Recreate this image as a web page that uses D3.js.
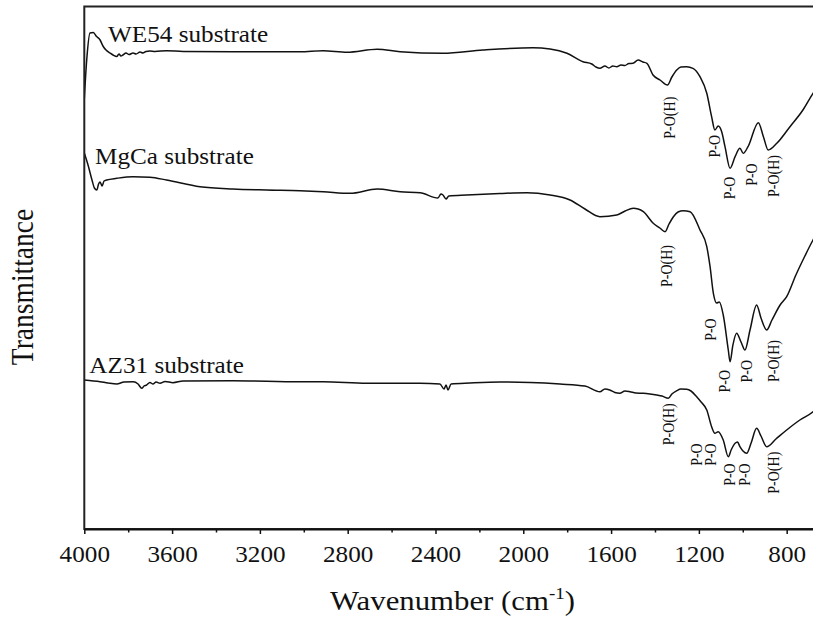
<!DOCTYPE html>
<html>
<head>
<meta charset="utf-8">
<script src="https://cdn.jsdelivr.net/npm/d3@7/dist/d3.min.js"></script>
<style>
  html, body { margin: 0; padding: 0; background: #fff; }
  svg { display: block; }
  text { font-family: "Liberation Serif", "Times New Roman", serif; fill: #111; }
</style>
</head>
<body>
<svg id="chart" width="813" height="619"></svg>
<script>
// FTIR spectra of phosphate coatings on three Mg alloy substrates.
// Each series: [wavenumber (cm^-1), transmittance (arbitrary units, offset per trace)]
const we54 = [
  [4000, 430], [3989, 469], [3974, 496], [3959, 496.5], [3944, 492.5], [3928, 489],
  [3915, 483], [3901, 479], [3883, 476], [3869, 474], [3852, 472.5], [3842, 475],
  [3833, 473], [3824, 474], [3810, 476], [3796, 474.5], [3778, 476], [3764, 475],
  [3746, 477], [3733, 476], [3719, 477.5], [3701, 478], [3678, 477.5], [3625, 478.3],
  [3550, 477.5], [3323, 477.3], [3017, 477.3], [2912, 478.3], [2803, 476.7], [2666, 479.7],
  [2561, 477.3], [2366, 475.7], [2184, 479], [1956, 481.3], [1878, 480], [1801, 475.7],
  [1728, 467.3], [1688, 465], [1669, 462], [1651, 460.7], [1628, 463], [1610, 461],
  [1592, 463], [1574, 462.3], [1555, 464], [1537, 463.5], [1519, 465.5], [1500, 465.7],
  [1477, 469], [1455, 467], [1437, 465.7], [1409, 454], [1377, 449], [1343, 444],
  [1323, 452], [1301, 459], [1282, 462], [1256, 462.3], [1227, 460.7], [1195, 452.3],
  [1164, 435.7], [1142, 412.3], [1127, 399], [1112, 403], [1096, 397.3], [1081, 382.3],
  [1058, 360.7], [1035, 372.3], [1013, 380.7], [998, 375.7], [976, 382.3], [929, 406.3],
  [906, 392.3], [884, 379], [845, 385.7], [785, 402.3], [726, 419], [680, 435.7], [653, 444]
];
const mgca = [
  [4000, 376], [3983, 364], [3965, 349], [3954, 341], [3943, 339], [3935, 345],
  [3928, 347], [3919, 343], [3910, 348], [3898, 349], [3852, 350.7], [3778, 352.3],
  [3701, 351.7], [3625, 349], [3473, 342.3], [3323, 340], [3169, 339], [3017, 338.3],
  [2912, 337.3], [2789, 335.7], [2666, 340], [2561, 337.3], [2470, 336.3], [2389, 331],
  [2375, 335], [2366, 334], [2352, 330], [2339, 333], [2258, 334], [2106, 335.5],
  [1984, 336.3], [1878, 334], [1787, 329], [1719, 320], [1651, 312.3], [1574, 314],
  [1536, 318], [1499, 320.7], [1477, 320], [1453, 317.3], [1408, 305.7], [1378, 301],
  [1354, 297.3], [1336, 305], [1316, 312.3], [1295, 317], [1271, 318.3], [1240, 317.3],
  [1195, 299], [1164, 282.3], [1149, 262.3], [1134, 235.7], [1119, 226], [1107, 227],
  [1089, 214], [1066, 179], [1058, 167.3], [1045, 184], [1028, 195.7], [1008, 187],
  [990, 179], [967, 199], [937, 224], [917, 211], [891, 199], [867, 209], [830, 224],
  [800, 232.3], [758, 254], [717, 273], [680, 289], [653, 299]
];
const az31 = [
  [4000, 149], [3928, 147.3], [3892, 146], [3852, 145], [3819, 147], [3777, 147.3],
  [3755, 145], [3738, 140.7], [3728, 143], [3716, 144], [3701, 146.5], [3687, 145],
  [3673, 147], [3655, 145.7], [3632, 147.5], [3596, 146.3], [3550, 148], [3323, 148.3],
  [3017, 147.3], [2912, 147.3], [2713, 145.7], [2471, 145.7], [2380, 145], [2361, 140],
  [2352, 144], [2343, 139], [2329, 145], [2243, 146], [2106, 147], [1969, 146.5],
  [1833, 145], [1719, 143], [1651, 137.3], [1628, 140], [1606, 139], [1583, 136.5],
  [1560, 135.7], [1537, 138], [1514, 137.3], [1487, 136], [1453, 135.7], [1423, 135],
  [1392, 134], [1368, 133], [1339, 130.7], [1323, 135], [1301, 138.3], [1282, 140],
  [1256, 139.7], [1236, 138], [1210, 132.3], [1190, 127], [1164, 119], [1142, 102.3],
  [1127, 95.7], [1112, 97.3], [1089, 89], [1066, 72.3], [1053, 79], [1035, 85.7],
  [1024, 87], [1013, 82.3], [999, 78], [982, 75.7], [962, 86], [937, 100.7], [917, 93],
  [891, 82.3], [849, 90], [800, 99], [740, 109], [680, 117.3], [653, 123]
];

// Trace names and where each name sits: [name, wavenumber, transmittance]
const seriesNames = [
  ["WE54 substrate", 3892, 487],
  ["MgCa substrate", 3951, 364.7],
  ["AZ31 substrate", 3977, 155.7]
];

// Band assignments: [label, wavenumber, transmittance at top of label]
const bandLabels = [
  ["P-O(H)", 1335, 432.3], ["P-O", 1127, 394], ["P-O", 1059, 352.3],
  ["P-O", 959, 365.7], ["P-O(H)", 861, 374],
  ["P-O(H)", 1347, 284], ["P-O", 1149, 210.7], ["P-O", 1081, 159],
  ["P-O", 982, 169], ["P-O(H)", 861, 189],
  ["P-O(H)", 1339, 125.7], ["P-O", 1210, 85.7], ["P-O", 1149, 85.7],
  ["P-O", 1059, 65.7], ["P-O", 990, 65.7], ["P-O(H)", 861, 77.3]
];

const majorTicks = [4000, 3600, 3200, 2800, 2400, 2000, 1600, 1200, 800];
const minorTicks = [3800, 3400, 3000, 2600, 2200, 1800, 1400, 1000];

const xTitle = "Wavenumber (cm";
const xTitleSup = "-1";
const yTitle = "Transmittance";

// Layout
const plotLeft = 84.3, plotTop = 6.5, plotBottom = 529, plotRight = 819.6;
const stretch = 1.12;   // the serif lettering is set slightly wide

const svg = d3.select("#chart");

const x = d3.scaleLinear().domain([4000, 650]).range([plotLeft, plotRight]);
const y = d3.scaleLinear().domain([0, 522.5]).range([plotBottom, plotTop]);

svg.append("defs").append("clipPath").attr("id", "plot")
  .append("rect").attr("x", plotLeft).attr("y", plotTop)
  .attr("width", plotRight - plotLeft).attr("height", plotBottom - plotTop);

// Spectra
const line = d3.line()
  .x(d => x(d[0]))
  .y(d => y(d[1]))
  .curve(d3.curveMonotoneX);

svg.append("g").attr("clip-path", "url(#plot)")
  .selectAll("path")
  .data([we54, mgca, az31])
  .join("path")
  .attr("d", line)
  .attr("fill", "none")
  .attr("stroke", "#111")
  .attr("stroke-width", 1.5)
  .attr("stroke-linejoin", "round");

// Frame
svg.append("rect")
  .attr("x", plotLeft).attr("y", plotTop)
  .attr("width", plotRight - plotLeft).attr("height", plotBottom - plotTop)
  .attr("fill", "none").attr("stroke", "#222").attr("stroke-width", 2);

// Bottom axis: minor then major ticks
const minorAxis = d3.axisBottom(x).tickValues(minorTicks).tickSize(3.5).tickSizeOuter(0).tickFormat("");
svg.append("g").attr("transform", `translate(0,${plotBottom})`).call(minorAxis)
  .call(g => g.select(".domain").remove())
  .call(g => g.selectAll("line").attr("stroke", "#111").attr("stroke-width", 1.5));

const majorAxis = d3.axisBottom(x).tickValues(majorTicks).tickSize(5).tickSizeOuter(0)
  .tickPadding(12).tickFormat(d3.format("d"));
const gx = svg.append("g").attr("transform", `translate(0,${plotBottom})`).call(majorAxis);
gx.select(".domain").attr("stroke", "#111").attr("stroke-width", 2);
gx.selectAll("line").attr("stroke", "#111").attr("stroke-width", 1.5);
gx.selectAll("text")
  .attr("font-size", 22.5)
  .attr("font-family", "Liberation Serif, Times New Roman, serif")
  .attr("fill", "#111")
  .attr("transform", `scale(${stretch},1)`);

// Axis titles
const xt = svg.append("text")
  .attr("transform", `translate(330,610) scale(${stretch},1)`)
  .attr("font-size", 27.5)
  .text(xTitle);
xt.append("tspan").attr("font-size", 17).attr("dy", -11).text(xTitleSup);
xt.append("tspan").attr("dy", 11).text(")");

svg.append("text")
  .attr("transform", `translate(33,287) scale(${stretch},1) rotate(-90)`)
  .attr("text-anchor", "middle")
  .attr("font-size", 27.5)
  .text(yTitle);

// Trace names
svg.selectAll("text.series")
  .data(seriesNames)
  .join("text")
  .attr("class", "series")
  .attr("transform", d => `translate(${x(d[1])},${y(d[2])}) scale(${stretch},1)`)
  .attr("font-size", 22.5)
  .text(d => d[0]);

// Band labels, set vertically and hanging down from their anchor
svg.selectAll("text.band")
  .data(bandLabels)
  .join("text")
  .attr("class", "band")
  .attr("transform", d => `translate(${x(d[1])},${y(d[2])}) scale(${stretch},1) rotate(-90)`)
  .attr("text-anchor", "end")
  .attr("dy", "0.35em")
  .attr("font-size", 14)
  .text(d => d[0]);
</script>
</body>
</html>
